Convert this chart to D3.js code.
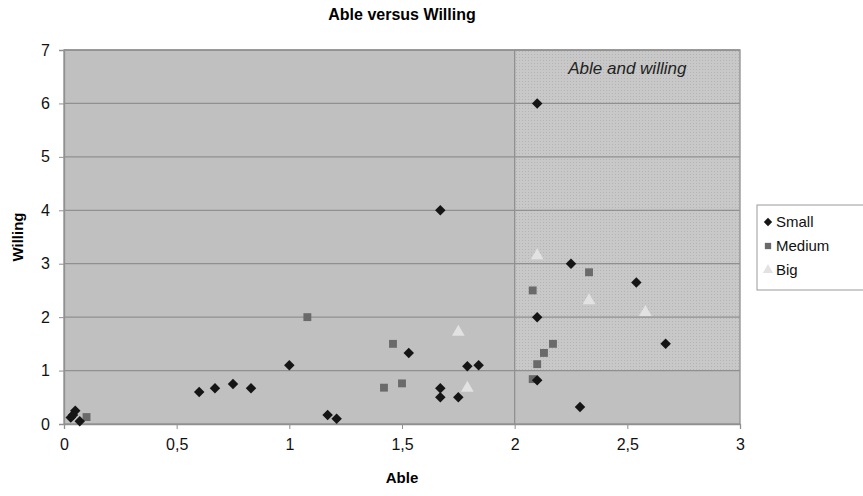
<!DOCTYPE html>
<html>
<head>
<meta charset="utf-8">
<script src="https://cdn.jsdelivr.net/npm/d3@7"></script>
<style>
  body { margin: 0; background: #fff; }
  svg { font-family: "Liberation Sans", Arial, sans-serif; }
</style>
</head>
<body>
<svg id="chart" width="863" height="496"></svg>
<script>
// points as [able, willing]
var smallPoints = [
    [0.03, 0.12], [0.05, 0.25], [0.07, 0.05], [0.04, 0.17],
    [0.6, 0.6], [0.67, 0.67], [0.75, 0.75], [0.83, 0.67],
    [1.0, 1.1], [1.17, 0.17], [1.21, 0.1], [1.53, 1.33],
    [1.67, 4], [1.67, 0.67], [1.67, 0.5], [1.75, 0.5],
    [1.79, 1.08], [1.84, 1.1], [2.1, 6], [2.1, 2], [2.1, 0.82],
    [2.25, 3], [2.29, 0.32], [2.54, 2.65], [2.67, 1.5]
];
var mediumPoints = [
    [0.1, 0.13], [1.08, 2.0], [1.42, 0.68], [1.46, 1.5], [1.5, 0.76],
    [2.08, 2.5], [2.08, 0.84], [2.1, 1.12], [2.13, 1.33], [2.17, 1.5], [2.33, 2.84]
];
var bigPoints = [
    [1.75, 1.72], [1.79, 0.67], [2.1, 3.15], [2.33, 2.31], [2.58, 2.09]
];
var seriesNames = ['Small', 'Medium', 'Big'];
var xTicks = [0, 0.5, 1, 1.5, 2, 2.5, 3];
var yTicks = [0, 1, 2, 3, 4, 5, 6, 7];
var zone = { x0: 2, x1: 3, y0: 1, y1: 7, label: 'Able and willing' };

var svg = d3.select('#chart'),
    plotL = 64, plotR = 740, plotT = 50, plotB = 424;

var x = d3.scaleLinear().domain([0, 3]).range([plotL, plotR]),
    y = d3.scaleLinear().domain([0, 7]).range([plotB, plotT]);

var fmt = function (d) { return String(d).replace('.', ','); };

// dotted fill for the "able and willing" zone
var pat = svg.append('defs').append('pattern')
    .attr('id', 'dots')
    .attr('width', 3).attr('height', 3)
    .attr('patternUnits', 'userSpaceOnUse');
pat.append('rect').attr('width', 3).attr('height', 3).attr('fill', '#c8c8c8');
pat.append('rect').attr('width', 1).attr('height', 1).attr('fill', '#b4b4b4');

// plot background
svg.append('rect')
    .attr('x', plotL).attr('y', plotT)
    .attr('width', plotR - plotL).attr('height', plotB - plotT)
    .attr('fill', '#c0c0c0');

svg.append('rect')
    .attr('x', x(zone.x0)).attr('y', y(zone.y1))
    .attr('width', x(zone.x1) - x(zone.x0)).attr('height', y(zone.y0) - y(zone.y1))
    .attr('fill', 'url(#dots)');

// horizontal gridlines
svg.append('g').selectAll('line')
    .data(yTicks.slice(1))
    .enter().append('line')
    .attr('x1', plotL).attr('x2', plotR)
    .attr('y1', d => y(d)).attr('y2', d => y(d))
    .attr('stroke', '#909090').attr('stroke-width', 1.3);

// zone border at x = 2
svg.append('line')
    .attr('x1', x(zone.x0)).attr('x2', x(zone.x0))
    .attr('y1', y(zone.y1)).attr('y2', plotB)
    .attr('stroke', '#909090').attr('stroke-width', 1.3);

svg.append('rect')
    .attr('x', plotL).attr('y', plotT)
    .attr('width', plotR - plotL).attr('height', plotB - plotT)
    .attr('fill', 'none').attr('stroke', '#909090').attr('stroke-width', 1.3);

svg.append('text')
    .attr('x', x(2.5)).attr('y', y(6.55))
    .attr('text-anchor', 'middle')
    .style('font-size', '17px').style('font-style', 'italic')
    .attr('fill', '#222')
    .text(zone.label);

// axes
var xAxis = svg.append('g')
    .attr('transform', 'translate(0,' + plotB + ')')
    .call(d3.axisBottom(x).tickValues(xTicks).tickFormat(fmt).tickSize(5).tickPadding(10));
var yAxis = svg.append('g')
    .attr('transform', 'translate(' + plotL + ',0)')
    .call(d3.axisLeft(y).tickValues(yTicks).tickFormat(d3.format('d')).tickSize(5).tickPadding(9));

[xAxis, yAxis].forEach(function (g) {
    g.select('.domain').attr('stroke', '#909090').attr('stroke-width', 1.3);
    g.selectAll('.tick line').attr('stroke', '#909090');
    g.selectAll('.tick text')
        .attr('fill', '#111')
        .style('font-size', '16px')
        .style('font-family', '"Liberation Sans", Arial, sans-serif');
});

// markers
var diamond = d3.symbol().type(d3.symbolDiamond2).size(70),
    square = d3.symbol().type(d3.symbolSquare).size(62),
    triangle = d3.symbol().type(d3.symbolTriangle).size(70);

function drawSeries(data, sym, fill) {
    svg.append('g').selectAll('path')
        .data(data)
        .enter().append('path')
        .attr('d', sym)
        .attr('transform', d => 'translate(' + x(d[0]) + ',' + y(d[1]) + ')')
        .attr('fill', fill);
}

drawSeries(mediumPoints, square, '#6a6a6a');
drawSeries(bigPoints, triangle, '#e2e2e2');
drawSeries(smallPoints, diamond, '#151515');

// titles
svg.append('text')
    .attr('x', (plotL + plotR) / 2).attr('y', 20)
    .attr('text-anchor', 'middle')
    .style('font-size', '16px').style('font-weight', 'bold')
    .text('Able versus Willing');

svg.append('text')
    .attr('x', (plotL + plotR) / 2).attr('y', 483)
    .attr('text-anchor', 'middle')
    .style('font-size', '15px').style('font-weight', 'bold')
    .text('Able');

svg.append('text')
    .attr('transform', 'translate(23,' + ((plotT + plotB) / 2) + ') rotate(-90)')
    .attr('text-anchor', 'middle')
    .style('font-size', '15px').style('font-weight', 'bold')
    .text('Willing');

// legend
var legend = svg.append('g').attr('transform', 'translate(757,205)');
legend.append('rect')
    .attr('width', 130).attr('height', 85)
    .attr('fill', '#fff').attr('stroke', '#999');

var legendSyms = [
    { sym: d3.symbol().type(d3.symbolDiamond2).size(45), fill: '#151515' },
    { sym: d3.symbol().type(d3.symbolSquare).size(40), fill: '#6a6a6a' },
    { sym: d3.symbol().type(d3.symbolTriangle).size(45), fill: '#e2e2e2' }
];

var rows = legend.selectAll('g.row')
    .data(seriesNames)
    .enter().append('g')
    .attr('class', 'row')
    .attr('transform', (d, i) => 'translate(0,' + (17 + i * 24) + ')');

rows.append('path')
    .attr('d', (d, i) => legendSyms[i].sym())
    .attr('transform', 'translate(11,0)')
    .attr('fill', (d, i) => legendSyms[i].fill);

rows.append('text')
    .attr('x', 19).attr('dy', '0.36em')
    .style('font-size', '15px')
    .attr('fill', '#111')
    .text(d => d);
</script>
</body>
</html>
